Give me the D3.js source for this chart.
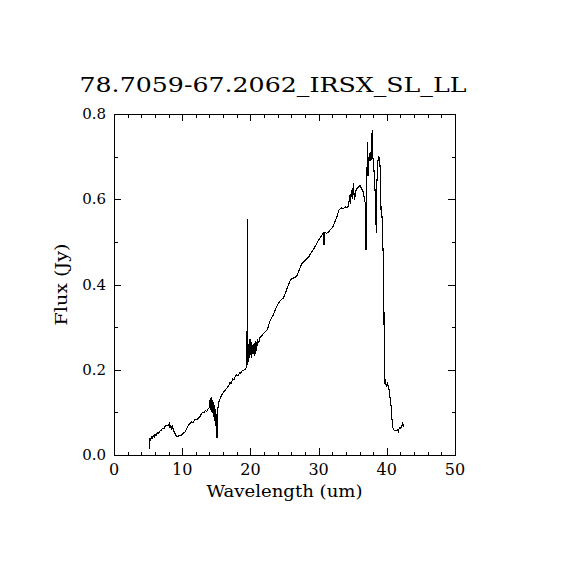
<!DOCTYPE html>
<html>
<head>
	<title>78.7059-67.2062_IRSX_SL_LL</title>
	<script src="https://d3js.org/d3.v7.min.js"></script>
	<style>
		body { margin:0; background:#fff; }
		text { font-family: 'DejaVu Serif', 'Liberation Serif', serif; fill: black; }
		.axis path, .axis line { stroke: black; shape-rendering: crispEdges; }
		.spec { fill: none; stroke: black; stroke-width: 1.1; stroke-linejoin: miter; }
	</style>
</head>
<body>
<script>
	var title = "78.7059-67.2062_IRSX_SL_LL";
	var xLabel = "Wavelength (um)";
	var yLabel = "Flux (Jy)";

	var xTicks = [0, 10, 20, 30, 40, 50];
	var yTicks = [0.0, 0.2, 0.4, 0.6, 0.8];

	// wavelength (um) and flux (Jy)
	var wave = [5.18, 5.20, 5.35, 5.5, 5.6, 5.77, 5.9, 6.0, 6.2, 6.35, 6.5, 6.74, 6.9, 7.1, 7.3, 7.5, 7.7, 7.9, 8.1, 8.2,
		8.3, 8.45, 8.6, 8.7, 8.9, 9.05, 9.2, 9.4, 9.6, 9.8, 10.0, 10.2, 10.4, 10.6, 10.8, 11.0, 11.2, 11.4, 11.6, 11.8,
		12.0, 12.2, 12.4, 12.6, 12.8, 13.0, 13.2, 13.4, 13.6, 13.8, 14.0, 14.05, 14.1, 14.2, 14.25, 14.35, 14.4, 14.5, 14.55, 14.65,
		14.7, 14.8, 14.85, 14.95, 15.0, 15.05, 15.1, 15.2, 15.3, 15.5, 15.8, 16.1, 16.5, 16.8, 17.0, 17.2, 17.4, 17.6, 17.8, 18.0,
		18.2, 18.4, 18.6, 18.8, 19.0, 19.2, 19.4, 19.5, 19.55, 19.6, 19.7, 19.8, 19.85, 19.95, 20.0, 20.1, 20.2, 20.3, 20.4, 20.55,
		20.65, 20.8, 20.9, 21.05, 21.2, 21.4, 21.6, 21.9, 22.2, 22.4, 22.6, 22.8, 23.1, 23.4, 23.7, 24.1, 24.4, 24.8, 25.1, 25.4,
		25.8, 26.1, 26.5, 26.8, 27.1, 27.5, 27.9, 28.3, 28.6, 29.0, 29.3, 29.6, 30.0, 30.3, 30.6, 30.75, 30.8, 30.9, 31.2, 31.5,
		31.8, 32.1, 32.4, 32.7, 33.0, 33.3, 33.6, 33.9, 34.2, 34.4, 34.55, 34.65, 34.8, 34.95, 35.1, 35.25, 35.5, 35.8, 36.1, 36.3,
		36.5, 36.7, 36.85, 36.95, 37.05, 37.15, 37.25, 37.35, 37.45, 37.55, 37.65, 37.75, 37.85, 37.95, 38.1, 38.2, 38.35, 38.45, 38.55, 38.7,
		38.85, 39.0, 39.1, 39.15, 39.3, 39.4, 39.5, 39.55, 39.6, 39.65, 39.75, 39.85, 39.95, 40.1, 40.2, 40.35, 40.5, 40.6, 40.7, 40.85,
		40.95, 41.2, 41.45, 41.6, 41.7, 41.85, 42.0, 42.1, 42.3, 42.4, 42.5];

	var flux = [0.013, 0.039, 0.036, 0.042, 0.040, 0.045, 0.043, 0.048, 0.046, 0.052, 0.050, 0.056, 0.058, 0.062, 0.061, 0.067, 0.070, 0.068, 0.073, 0.064,
		0.071, 0.062, 0.067, 0.058, 0.052, 0.046, 0.043, 0.044, 0.046, 0.045, 0.048, 0.052, 0.054, 0.060, 0.066, 0.072, 0.075, 0.078, 0.076, 0.082,
		0.084, 0.083, 0.088, 0.090, 0.096, 0.100, 0.099, 0.104, 0.102, 0.108, 0.112, 0.128, 0.105, 0.134, 0.100, 0.136, 0.098, 0.130, 0.090, 0.125,
		0.080, 0.110, 0.068, 0.095, 0.045, 0.090, 0.040, 0.100, 0.121, 0.130, 0.141, 0.148, 0.156, 0.162, 0.170, 0.168, 0.178, 0.176, 0.186, 0.188,
		0.186, 0.193, 0.192, 0.198, 0.199, 0.200, 0.205, 0.212, 0.554, 0.225, 0.222, 0.260, 0.228, 0.272, 0.235, 0.265, 0.228, 0.258, 0.238, 0.262,
		0.232, 0.268, 0.245, 0.272, 0.262, 0.275, 0.278, 0.285, 0.290, 0.292, 0.300, 0.312, 0.321, 0.330, 0.343, 0.356, 0.362, 0.368, 0.378, 0.392,
		0.408, 0.414, 0.416, 0.420, 0.432, 0.448, 0.455, 0.461, 0.466, 0.477, 0.484, 0.492, 0.504, 0.512, 0.518, 0.522, 0.493, 0.522, 0.520, 0.524,
		0.530, 0.535, 0.547, 0.560, 0.575, 0.580, 0.578, 0.582, 0.580, 0.586, 0.610, 0.588, 0.622, 0.600, 0.637, 0.598, 0.622, 0.628, 0.632, 0.625,
		0.620, 0.602, 0.590, 0.481, 0.600, 0.735, 0.655, 0.700, 0.690, 0.710, 0.690, 0.700, 0.762, 0.700, 0.676, 0.640, 0.600, 0.520, 0.640, 0.690,
		0.700, 0.680, 0.640, 0.575, 0.560, 0.500, 0.460, 0.410, 0.300, 0.235, 0.165, 0.170, 0.160, 0.172, 0.160, 0.152, 0.130, 0.121, 0.094, 0.070,
		0.059, 0.058, 0.058, 0.060, 0.055, 0.065, 0.063, 0.065, 0.074, 0.068, 0.072];

	var margin = {top: 114, right: 115, bottom: 115, left: 114};
	var width = 570 - margin.left - margin.right,
		height = 570 - margin.top - margin.bottom;

	var svg = d3.select("body").append("svg")
		.attr("width", 570)
		.attr("height", 570)
	  .append("g")
		.attr("transform", "translate(" + margin.left + "," + margin.top + ")");

	var x = d3.scaleLinear().domain([0, 50]).range([0, width]);
	var y = d3.scaleLinear().domain([0, 0.8]).range([height, 0]);

	var xMinor = d3.range(0, 51, 2).filter(d => d % 10 != 0);
	var yMinor = [0.1, 0.3, 0.5, 0.7];

	// ticks point inward on all four sides, labels on bottom / left only
	function ticks(axis, vals, size, shift) {
		svg.append("g")
			.attr("class", "axis")
			.attr("transform", "translate(" + shift + ")")
			.call(axis.tickValues(vals).tickSize(size).tickFormat(""))
			.call(g => g.select(".domain").remove());
	}
	ticks(d3.axisTop(x), xTicks, 7, [0, height]);
	ticks(d3.axisTop(x), xMinor, 3.5, [0, height]);
	ticks(d3.axisBottom(x), xTicks, 7, [0, 0]);
	ticks(d3.axisBottom(x), xMinor, 3.5, [0, 0]);
	ticks(d3.axisRight(y), yTicks, 7, [0, 0]);
	ticks(d3.axisRight(y), yMinor, 3.5, [0, 0]);
	ticks(d3.axisLeft(y), yTicks, 7, [width, 0]);
	ticks(d3.axisLeft(y), yMinor, 3.5, [width, 0]);

	svg.append("rect")
		.attr("width", width)
		.attr("height", height)
		.attr("fill", "none")
		.attr("stroke", "black")
		.attr("shape-rendering", "crispEdges");

	// tick labels
	svg.append("g").selectAll("text")
		.data(xTicks)
		.enter().append("text")
			.attr("x", d => x(d))
			.attr("y", height + 20)
			.attr("text-anchor", "middle")
			.style("font-size", "16px")
			.text(d => d);

	svg.append("g").selectAll("text")
		.data(yTicks)
		.enter().append("text")
			.attr("x", -8)
			.attr("y", d => y(d) + 5)
			.attr("text-anchor", "end")
			.style("font-size", "15px")
			.text(d => d3.format(".1f")(d));

	svg.append("text")
		.attr("x", width / 2)
		.attr("y", height + 42)
		.attr("text-anchor", "middle")
		.attr("textLength", 156)
		.attr("lengthAdjust", "spacingAndGlyphs")
		.style("font-size", "17px")
		.text(xLabel);

	svg.append("text")
		.attr("text-anchor", "middle")
		.attr("transform", "translate(" + [-47, height / 2] + ") rotate(-90)")
		.attr("textLength", 82)
		.attr("lengthAdjust", "spacingAndGlyphs")
		.style("font-size", "17px")
		.text(yLabel);

	svg.append("text")
		.attr("x", 273 - margin.left)
		.attr("y", -22)
		.attr("text-anchor", "middle")
		.attr("textLength", 387)
		.attr("lengthAdjust", "spacingAndGlyphs")
		.style("font-size", "21px")
		.text(title);

	var line = d3.line()
		.x(d => x(d[0]))
		.y(d => y(d[1]));

	svg.append("path")
		.datum(d3.zip(wave, flux))
		.attr("class", "spec")
		.attr("shape-rendering", "crispEdges")
		.attr("d", line);
</script>
</body>
</html>
